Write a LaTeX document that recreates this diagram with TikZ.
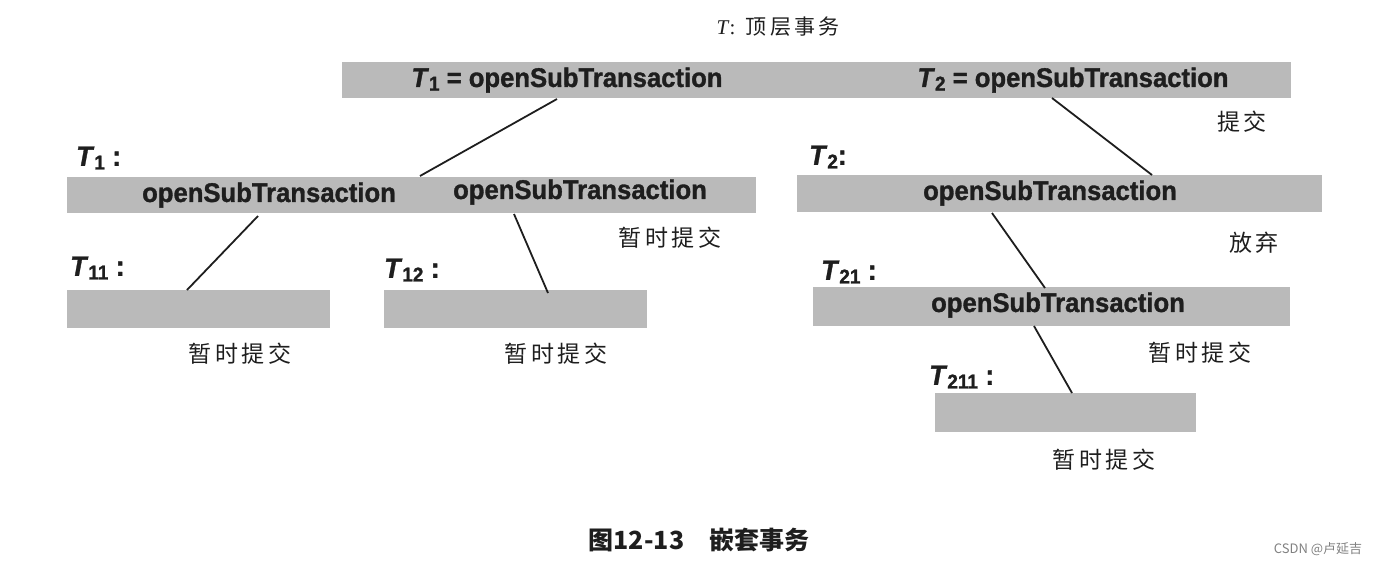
\documentclass[tikz,border=0pt]{standalone}
\usepackage{fontspec}
\setmainfont{Liberation Serif}
\newfontfamily\cond[FakeStretch=0.95,FakeBold=1.2]{Liberation Sans}
\newfontfamily\cjk{Noto Sans CJK SC}
\newfontfamily\cjksp[LetterSpace=15]{Noto Sans CJK SC}
\definecolor{barfill}{RGB}{186,186,186}
\definecolor{ink}{RGB}{30,30,30}
\tikzset{
  bar/.style={rectangle, fill=barfill, draw=none, anchor=north west, inner sep=0pt},
  optext/.style={font=\cond\bfseries\fontsize{27}{30}\selectfont, text=ink, inner sep=0pt},
  tlabel/.style={font=\cond\bfseries\fontsize{28}{30}\selectfont, text=ink, inner sep=0pt, anchor=west},
  cn/.style={font=\cjksp\fontsize{23}{25}\selectfont, text=ink, inner sep=0pt},
  link/.style={draw=ink, line width=1.8pt},
}
\newcommand{\Tsub}[1]{\textit{T}\raisebox{-0.25ex}{\fontsize{20}{22}\selectfont #1}}
\begin{document}
\begin{tikzpicture}[x=1pt,y=-1pt]
\useasboundingbox (0,0) rectangle (1383,565);
% bars
\node[bar, minimum width=949, minimum height=36] (top) at (342,62) {};
\node[bar, minimum width=689, minimum height=36] (r2l) at (67,177) {};
\node[bar, minimum width=525, minimum height=37] (r2r) at (797,175) {};
\node[bar, minimum width=263, minimum height=38] (b11) at (67,290) {};
\node[bar, minimum width=263, minimum height=38] (b12) at (384,290) {};
\node[bar, minimum width=477, minimum height=39] (b21) at (813,287) {};
\node[bar, minimum width=261, minimum height=39] (b211) at (935,393) {};
% title
\node[font=\fontsize{21}{23}\selectfont, text=ink, inner sep=0pt] (title) at (778,27) {\textit{T}:\enspace{\cjksp 顶层事务}};
% bar texts
\node[optext] (t1o) at (567,80) {\Tsub{1} = openSubTransaction};
\node[optext] (t2o) at (1073,80) {\Tsub{2} = openSubTransaction};
\node[optext] (o11) at (269,195) {openSubTransaction};
\node[optext] (o12) at (580,192) {openSubTransaction};
\node[optext] (o21) at (1050,193) {openSubTransaction};
\node[optext] (o211) at (1058,305) {openSubTransaction};
% labels
\node[tlabel] (lt1) at (76,158) {\Tsub{1} :};
\node[tlabel] (lt2) at (809,157) {\Tsub{2}:};
\node[tlabel] (lt11) at (70,268) {\Tsub{11} :};
\node[tlabel] (lt12) at (384,270) {\Tsub{12} :};
\node[tlabel] (lt21) at (821,272) {\Tsub{21} :};
\node[tlabel] (lt211) at (929,377) {\Tsub{211} :};
% chinese notes
\node[cn] (n1) at (1242,122) {提交};
\node[cn] (n2) at (670,238) {暂时提交};
\node[cn] (n3) at (1254,243) {放弃};
\node[cn] (n4) at (240,354) {暂时提交};
\node[cn] (n5) at (556,354) {暂时提交};
\node[cn] (n6) at (1200,353) {暂时提交};
\node[cn] (n7) at (1104,460) {暂时提交};
% caption and watermark
\node[font=\cjk\bfseries\fontsize{25}{27}\selectfont, text=ink, inner sep=0pt] (cap) at (699,540) {图12-13\quad 嵌套事务};
\node[font=\cjk\fontsize{13}{15}\selectfont, text=gray, inner sep=0pt] (wm) at (1318,549) {CSDN @卢延吉};
% connector points
\coordinate (a1) at (557,99);  \coordinate (a2) at (420,176);
\coordinate (b1) at (1052,98); \coordinate (b2) at (1152,175);
\coordinate (c1) at (258,216); \coordinate (c2) at (187,290);
\coordinate (d1) at (514,214); \coordinate (d2) at (548,293);
\coordinate (e1) at (992,213); \coordinate (e2) at (1045,288);
\coordinate (f1) at (1034,326); \coordinate (f2) at (1072,393);
\draw[link] (a1) -- (a2);
\draw[link] (b1) -- (b2);
\draw[link] (c1) -- (c2);
\draw[link] (d1) -- (d2);
\draw[link] (e1) -- (e2);
\draw[link] (f1) -- (f2);
\end{tikzpicture}
\end{document}
